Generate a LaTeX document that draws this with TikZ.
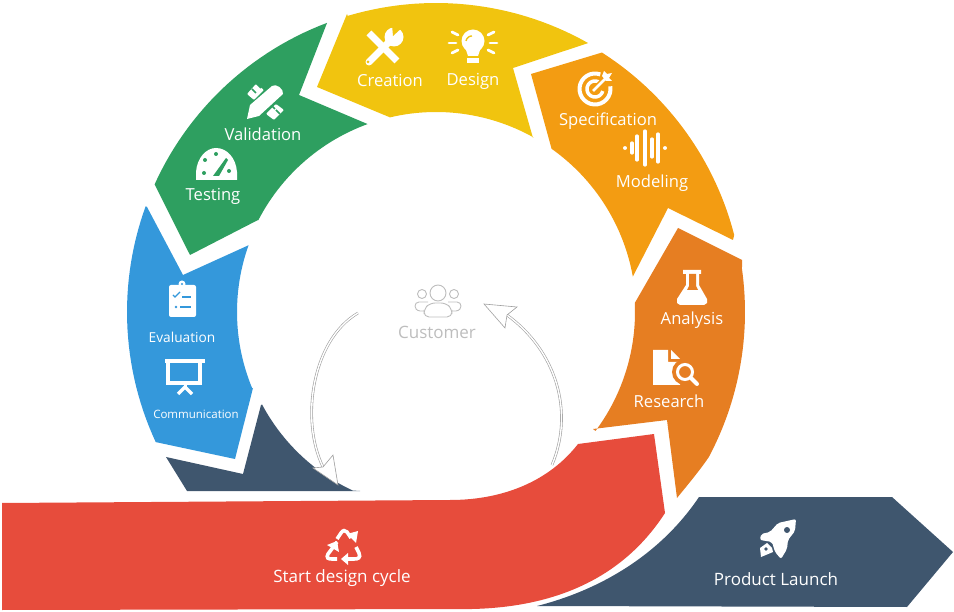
\documentclass[tikz,border=0pt]{standalone}
\usepackage{fontspec}
\setmainfont{Open Sans}
\usetikzlibrary{arrows.meta}
\definecolor{ringyellow}{HTML}{F1C40F}
\definecolor{ringgreen}{HTML}{2E9F60}
\definecolor{ringorange}{HTML}{F39C12}
\definecolor{ringdeep}{HTML}{E67E22}
\definecolor{ringblue}{HTML}{3498DB}
\definecolor{ringnavy}{HTML}{3F566E}
\definecolor{ringred}{HTML}{E74C3C}
\definecolor{softgray}{HTML}{BDBDBD}
\newcommand{\ringarc}[3]{-- plot[domain=#1:#2,samples=30] ({436+#3*cos(\x)},{312-#3*sin(\x)})}
\newcommand{\iconarc}[5]{plot[domain=#4:#5,samples=24] ({#1+#3*cos(\x)},{#2-#3*sin(\x)})}
\tikzstyle{label} = [text=white, inner sep=0pt, font=\fontsize{16.6}{18}\selectfont]
\tikzstyle{smalllabel} = [label, font=\fontsize{11.5}{13}\selectfont]
\tikzstyle{bandlabel} = [label, font=\fontsize{17}{18}\selectfont]
\tikzstyle{customer} = [text=softgray, inner sep=0pt, font=\fontsize{17}{18}\selectfont]
\tikzstyle{icon} = [fill=white, draw=none]
\tikzstyle{iconline} = [draw=white, line width=3.5pt]
\tikzstyle{loopline} = [draw=gray!75, line width=.6pt, double=white, double distance=1.4pt]
\tikzstyle{loophead} = [draw=gray!75, line width=.6pt, fill=white, line join=miter]
\tikzstyle{people} = [draw=softgray, line width=.9pt]

\begin{document}
\begin{tikzpicture}[x=1pt,y=-1pt]
  \useasboundingbox (0,0) rectangle (954,612);

  \fill[ringyellow] (347,14) \ringarc{106.6}{60.5}{309} -- (513,68) -- (533,138)
    \ringarc{60.9}{103.3}{200} -- (317,87) -- cycle;
  \fill[ringgreen] (327,23) \ringarc{110.7}{155.6}{309} -- (190,255) -- (258,220)
    \ringarc{152.7}{110}{200} -- (299,95) -- cycle;
  \fill[ringorange] (531,74) \ringarc{57.4}{14.5}{308} -- (733,240) -- (668,208)
    \ringarc{10.2}{54.7}{200} -- cycle;
  \fill[ringdeep] (678,228) -- (742,260) \ringarc{8}{-28}{309}
    .. controls (700,470) and (690,482) .. (677,498) -- (667,420) -- (593,429)
    \ringarc{-36.7}{2.6}{199} -- cycle;
  \fill[ringblue] (147,207) \ringarc{160}{204.9}{309} -- (235,459) -- (253,388)
    \ringarc{202.6}{160.4}{199} -- (183,275) -- cycle;
  \fill[ringnavy] (261,405) \ringarc{208}{245}{197} -- (360,491) -- (187,491)
    -- (166,457) -- (243,474) -- cycle;
  \fill[ringnavy] (699,497) -- (892,497) -- (953,552) -- (907,607) -- (537,606)
    .. controls (600,590) and (660,555) .. (699,497) -- cycle;

  \coordinate (loopa) at (358,313);
  \coordinate (loopb) at (323,467);
  \coordinate (loopc) at (552,465);
  \coordinate (loopd) at (507,315);
  \draw[loopline] (loopc) .. controls (575,410) and (555,350) .. (loopd);
  \draw[loopline] (loopa) .. controls (312,340) and (300,420) .. (loopb);
  \draw[loophead] (333,455) -- (338,485) -- (313,468) -- (loopb) -- cycle;
  \draw[loophead] (484,304) -- (517,307) -- (loopd) -- (505,328) -- cycle;

  \fill[ringred] (2,503) -- (450,500) .. controls (505,500) and (550,480) .. (578,444)
    -- (654,434) -- (665,513) .. controls (625,575) and (560,607) .. (472,609)
    -- (2,610) -- cycle;

  \node[label] (creation) at (390,80) {Creation};
  \node[label] (design) at (473,81) {Design};
  \node[label] (specification) at (608,121.5) {Specification};
  \node[label] (modeling) at (652,183.5) {Modeling};
  \node[label] (validation) at (263,134.5) {Validation};
  \node[label] (testing) at (213,196.5) {Testing};
  \node[label,font=\fontsize{13.7}{15}\selectfont] (evaluation) at (182,337) {Evaluation};
  \node[smalllabel] (communication) at (196,414) {Communication};
  \node[label] (analysis) at (692,320.5) {Analysis};
  \node[label] (research) at (669,401.5) {Research};
  \node[bandlabel] (startcycle) at (342,578.5) {Start design cycle};
  \node[bandlabel] (launch) at (776,579) {Product Launch};
  \node[customer] (customerlabel) at (437,332.5) {Customer};

  % yellow
  \draw[draw=white, line width=7pt] (369,33) -- (397,61);
  \draw[draw=white, line width=7pt, line cap=round] (369,62) -- (392,39);
  \fill[icon] (394,37) circle (9.5);
  \fill[ringyellow] (393,36) -- (392,25) -- (405,25) -- cycle;
  \fill[ringyellow] (368,62) circle (1.5);
  \fill[icon] (473,41) circle (11.5);
  \fill[icon] (465,47) -- (481,47) -- (478,56) -- (468,56) -- cycle;
  \fill[icon] (467,58) rectangle (479,63);
  \draw[ringyellow, line width=1.4pt] \iconarc{472}{42}{6}{90}{170};
  \foreach \ax/\ay/\bx/\by in {452/32/458/35, 449/43/456/43, 452/53/458/50, 494/32/488/35, 497/43/490/43, 494/53/488/50}
    \draw[iconline, line width=2.8pt, line cap=round] (\ax,\ay) -- (\bx,\by);

  % green
  \fill[icon, rounded corners=1pt] (256,84) -- (247,94) -- (254,100) -- (264,90) -- cycle;
  \fill[icon, rounded corners=1pt] (276,104) -- (266,114) -- (274,120) -- (284,110) -- cycle;
  \draw[ringgreen, line width=1.6pt] (252,89) -- (256,93);
  \draw[ringgreen, line width=1.6pt] (257,84) -- (261,88);
  \draw[ringgreen, line width=1.6pt] (275,109) -- (271,105);
  \draw[ringgreen, line width=1.6pt] (280,114) -- (276,110);
  \fill[icon] (247,119) -- (250,105) -- (272,86) .. controls (276,83) and (284,89) .. (283,94)
    -- (259,116) -- cycle;
  \fill[icon] (196,180) -- (196,172) .. controls (197,158) and (206,148) .. (216,148)
    .. controls (227,148) and (236,158) .. (237,172) -- (237,180) -- cycle;
  \foreach \ax/\ay in {205/160, 216/154, 229/171, 204/173}
    \fill[ringgreen] (\ax,\ay) circle (2);
  \fill[ringgreen] (213,176) -- (226,158) -- (228,160) -- (219,176) -- cycle;

  % orange
  \draw[draw=white, line width=4pt] \iconarc{595}{89}{15.5}{70}{370};
  \draw[draw=white, line width=3.5pt] \iconarc{595}{89}{8}{60}{345};
  \draw[ringorange, line width=6pt] (593,91) -- (604,80);
  \draw[draw=white, line width=2.5pt] (593,91) -- (606,78);
  \fill[icon] (602,76) -- (604,71) -- (607,74) -- (612,73) -- (609,78) -- (612,81)
    -- (606,81) -- cycle;
  \foreach \bx/\bh in {625/.3, 632/5, 637/12, 645/17, 652/9, 658/14, 665/.3}
    \draw[iconline, line width=3.2pt, line cap=round] (\bx,148-\bh) -- (\bx,148+\bh);

  % deep orange
  \fill[icon] (683,270) -- (701,270) -- (701,274) -- (699,274) -- (699,285) -- (707,299)
    -- (707,303) -- (704,305) -- (680,305) -- (677,303) -- (677,299) -- (686,285)
    -- (686,274) -- (683,274) -- cycle;
  \fill[ringdeep] (689,274) -- (696,274) -- (696,286) -- (698,290) -- (687,290)
    -- (689,286) -- cycle;
  \fill[icon] (653,350) -- (668,350) -- (668,362) -- (680,362) -- (680,385) -- (653,385) -- cycle;
  \fill[icon] (671,350) -- (680,359) -- (671,359) -- cycle;
  \fill[ringdeep] (685,372) circle (13);
  \draw[draw=white, line width=3pt] (685,372) circle (7.5);
  \draw[draw=white, line width=4pt, line cap=round] (691,378) -- (697,384);

  % blue
  \fill[icon, rounded corners=2pt] (169,285) rectangle (196,317);
  \fill[icon] (182,284) circle (3.5);
  \fill[ringblue] (182,284) circle (1.2);
  \draw[ringblue, line width=1.2pt] (173,295) -- (175,297) -- (180,292);
  \draw[ringblue, line width=1.4pt] (182,297) -- (191,297);
  \fill[ringblue] (176,307) circle (1.4);
  \draw[ringblue, line width=1.4pt] (180,307) -- (191,307);
  \fill[icon] (165,359) rectangle (205,363);
  \draw[iconline] (168,361) -- (168,383) -- (200,383) -- (200,361);
  \draw[iconline, line width=3.5pt] (178,394) -- (185,387) -- (192,394);
  \draw[iconline, line width=3pt] (185,383) -- (185,388);

  % cycle and launch
  \draw[iconline, line width=3.6pt] (337,539) -- (341,533)
    .. controls (343,530) and (345,530) .. (347,532) -- (351,538);
  \fill[icon] (347,534) -- (358,531) -- (356,543) -- cycle;
  \draw[iconline, line width=3.6pt] (337,542) -- (328,554) .. controls (326,558) and (328,559) .. (332,559) -- (337,559);
  \fill[icon] (327,545) -- (337,541) -- (339,552) -- cycle;
  \draw[iconline, line width=3.6pt] (356,547) -- (359,553) .. controls (361,558) and (358,559) .. (354,559) -- (346,559);
  \fill[icon] (348,553) -- (348,565) -- (341,559) -- cycle;
  \fill[icon, rounded corners=2pt] (796,519) -- (778,523) -- (770,532) -- (761,534) -- (760,540) -- (772,542)
    -- (775,552) -- (781,559) -- (787,549) -- (788,540) -- (795,531) -- cycle;
  \fill[ringnavy] (787,530) circle (3);
  \fill[icon] (767,543) -- (772,548) -- (773,552) -- (761,557) -- (760,548) -- cycle;
  \fill[ringnavy] (766,549) circle (1.8);

  % customer
  \draw[people] (438,293) circle (8);
  \draw[people] (422,294) circle (4.5);
  \draw[people] (454,294) circle (4.5);
  \draw[people, rounded corners=5pt] (424,317) -- (424,309) -- (430,303) -- (446,303)
    -- (452,309) -- (452,317) -- cycle;
  \draw[people] (428,302) -- (419,302) .. controls (414,302) and (413,310) .. (420,311) -- (424,311);
  \draw[people] (448,302) -- (457,302) .. controls (462,302) and (463,310) .. (456,311) -- (452,311);
\end{tikzpicture}
\end{document}
